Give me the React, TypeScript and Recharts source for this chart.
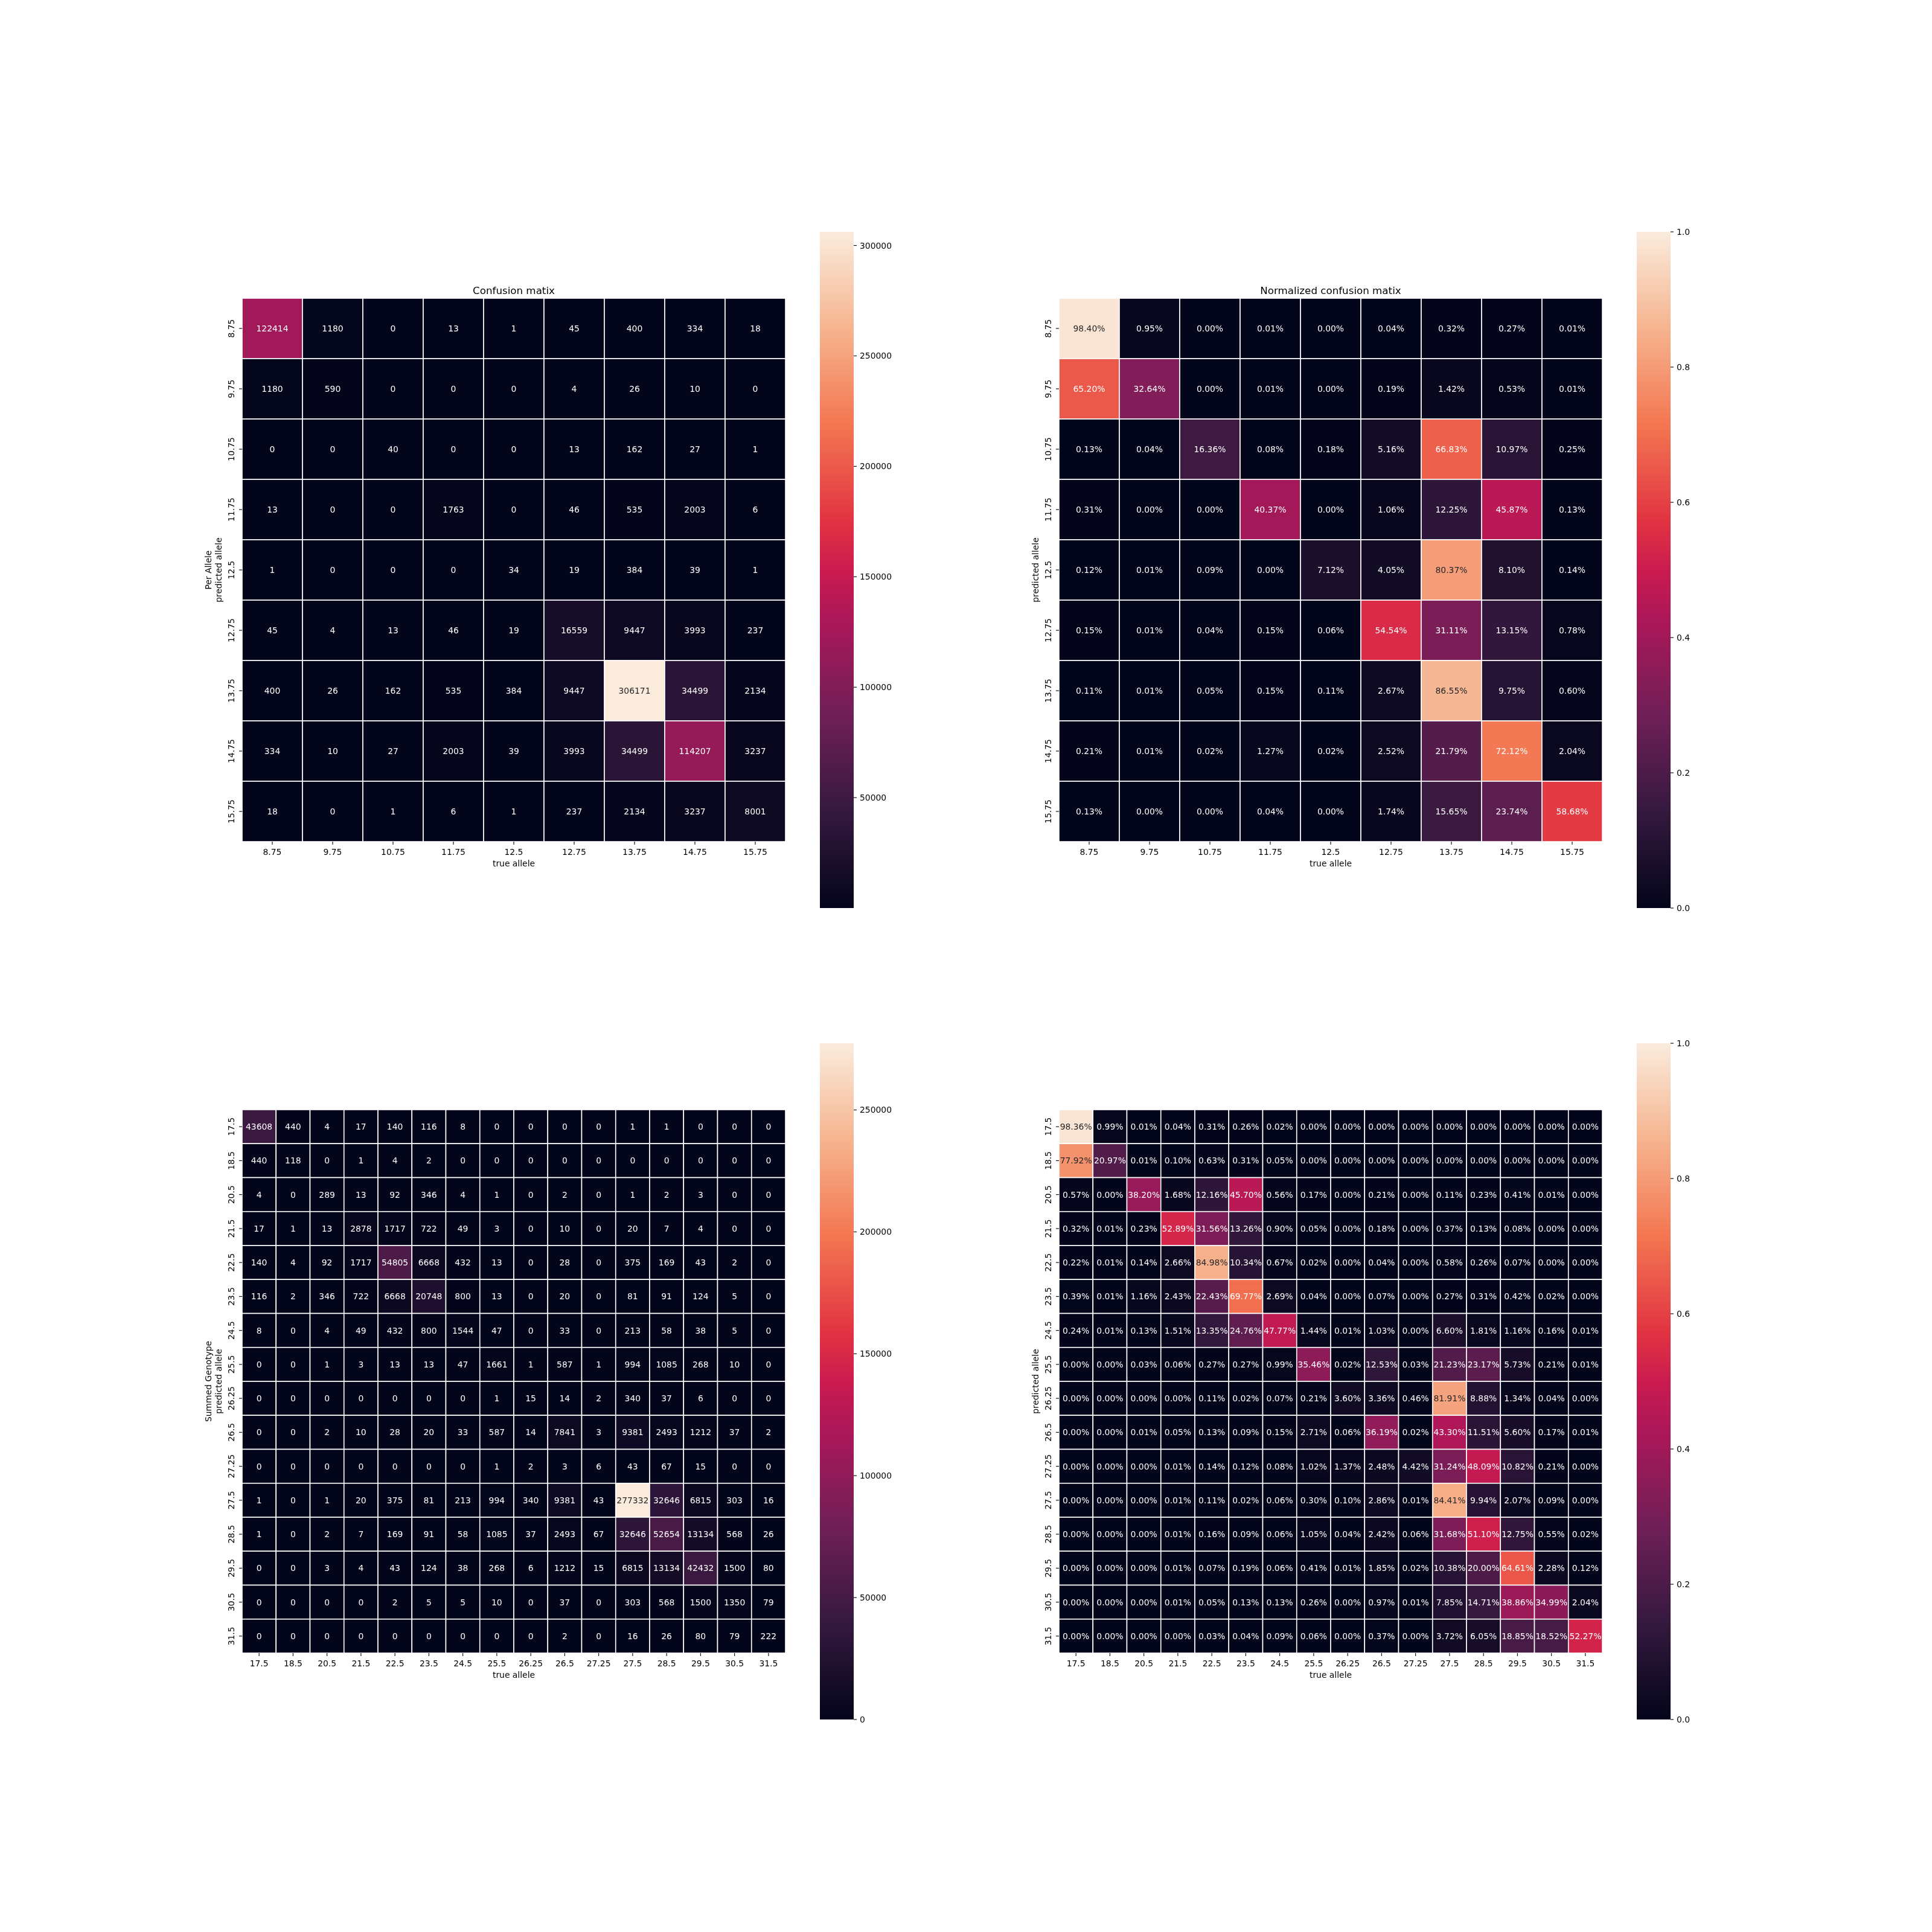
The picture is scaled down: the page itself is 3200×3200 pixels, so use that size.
import React from 'react';
import { ScatterChart, Scatter, XAxis, YAxis, BarChart, Bar } from 'recharts';

const FONT = 'DejaVu Sans';

// ---------- data ----------
const perAlleleLabels = ['8.75', '9.75', '10.75', '11.75', '12.5', '12.75', '13.75', '14.75', '15.75'];

const perAlleleCounts = [
  [122414, 1180, 0, 13, 1, 45, 400, 334, 18],
  [1180, 590, 0, 0, 0, 4, 26, 10, 0],
  [0, 0, 40, 0, 0, 13, 162, 27, 1],
  [13, 0, 0, 1763, 0, 46, 535, 2003, 6],
  [1, 0, 0, 0, 34, 19, 384, 39, 1],
  [45, 4, 13, 46, 19, 16559, 9447, 3993, 237],
  [400, 26, 162, 535, 384, 9447, 306171, 34499, 2134],
  [334, 10, 27, 2003, 39, 3993, 34499, 114207, 3237],
  [18, 0, 1, 6, 1, 237, 2134, 3237, 8001],
];

const perAlleleNormPct = [
  [98.4, 0.95, 0.0, 0.01, 0.0, 0.04, 0.32, 0.27, 0.01],
  [65.2, 32.64, 0.0, 0.01, 0.0, 0.19, 1.42, 0.53, 0.01],
  [0.13, 0.04, 16.36, 0.08, 0.18, 5.16, 66.83, 10.97, 0.25],
  [0.31, 0.0, 0.0, 40.37, 0.0, 1.06, 12.25, 45.87, 0.13],
  [0.12, 0.01, 0.09, 0.0, 7.12, 4.05, 80.37, 8.1, 0.14],
  [0.15, 0.01, 0.04, 0.15, 0.06, 54.54, 31.11, 13.15, 0.78],
  [0.11, 0.01, 0.05, 0.15, 0.11, 2.67, 86.55, 9.75, 0.6],
  [0.21, 0.01, 0.02, 1.27, 0.02, 2.52, 21.79, 72.12, 2.04],
  [0.13, 0.0, 0.0, 0.04, 0.0, 1.74, 15.65, 23.74, 58.68],
];

const genotypeLabels = ['17.5', '18.5', '20.5', '21.5', '22.5', '23.5', '24.5', '25.5', '26.25', '26.5', '27.25', '27.5', '28.5', '29.5', '30.5', '31.5'];

const genotypeCounts = [
  [43608, 440, 4, 17, 140, 116, 8, 0, 0, 0, 0, 1, 1, 0, 0, 0],
  [440, 118, 0, 1, 4, 2, 0, 0, 0, 0, 0, 0, 0, 0, 0, 0],
  [4, 0, 289, 13, 92, 346, 4, 1, 0, 2, 0, 1, 2, 3, 0, 0],
  [17, 1, 13, 2878, 1717, 722, 49, 3, 0, 10, 0, 20, 7, 4, 0, 0],
  [140, 4, 92, 1717, 54805, 6668, 432, 13, 0, 28, 0, 375, 169, 43, 2, 0],
  [116, 2, 346, 722, 6668, 20748, 800, 13, 0, 20, 0, 81, 91, 124, 5, 0],
  [8, 0, 4, 49, 432, 800, 1544, 47, 0, 33, 0, 213, 58, 38, 5, 0],
  [0, 0, 1, 3, 13, 13, 47, 1661, 1, 587, 1, 994, 1085, 268, 10, 0],
  [0, 0, 0, 0, 0, 0, 0, 1, 15, 14, 2, 340, 37, 6, 0, 0],
  [0, 0, 2, 10, 28, 20, 33, 587, 14, 7841, 3, 9381, 2493, 1212, 37, 2],
  [0, 0, 0, 0, 0, 0, 0, 1, 2, 3, 6, 43, 67, 15, 0, 0],
  [1, 0, 1, 20, 375, 81, 213, 994, 340, 9381, 43, 277332, 32646, 6815, 303, 16],
  [1, 0, 2, 7, 169, 91, 58, 1085, 37, 2493, 67, 32646, 52654, 13134, 568, 26],
  [0, 0, 3, 4, 43, 124, 38, 268, 6, 1212, 15, 6815, 13134, 42432, 1500, 80],
  [0, 0, 0, 0, 2, 5, 5, 10, 0, 37, 0, 303, 568, 1500, 1350, 79],
  [0, 0, 0, 0, 0, 0, 0, 0, 0, 2, 0, 16, 26, 80, 79, 222],
];

const genotypeNormPct = [
  [98.36, 0.99, 0.01, 0.04, 0.31, 0.26, 0.02, 0.0, 0.0, 0.0, 0.0, 0.0, 0.0, 0.0, 0.0, 0.0],
  [77.92, 20.97, 0.01, 0.1, 0.63, 0.31, 0.05, 0.0, 0.0, 0.0, 0.0, 0.0, 0.0, 0.0, 0.0, 0.0],
  [0.57, 0.0, 38.2, 1.68, 12.16, 45.7, 0.56, 0.17, 0.0, 0.21, 0.0, 0.11, 0.23, 0.41, 0.01, 0.0],
  [0.32, 0.01, 0.23, 52.89, 31.56, 13.26, 0.9, 0.05, 0.0, 0.18, 0.0, 0.37, 0.13, 0.08, 0.0, 0.0],
  [0.22, 0.01, 0.14, 2.66, 84.98, 10.34, 0.67, 0.02, 0.0, 0.04, 0.0, 0.58, 0.26, 0.07, 0.0, 0.0],
  [0.39, 0.01, 1.16, 2.43, 22.43, 69.77, 2.69, 0.04, 0.0, 0.07, 0.0, 0.27, 0.31, 0.42, 0.02, 0.0],
  [0.24, 0.01, 0.13, 1.51, 13.35, 24.76, 47.77, 1.44, 0.01, 1.03, 0.0, 6.6, 1.81, 1.16, 0.16, 0.01],
  [0.0, 0.0, 0.03, 0.06, 0.27, 0.27, 0.99, 35.46, 0.02, 12.53, 0.03, 21.23, 23.17, 5.73, 0.21, 0.01],
  [0.0, 0.0, 0.0, 0.0, 0.11, 0.02, 0.07, 0.21, 3.6, 3.36, 0.46, 81.91, 8.88, 1.34, 0.04, 0.0],
  [0.0, 0.0, 0.01, 0.05, 0.13, 0.09, 0.15, 2.71, 0.06, 36.19, 0.02, 43.3, 11.51, 5.6, 0.17, 0.01],
  [0.0, 0.0, 0.0, 0.01, 0.14, 0.12, 0.08, 1.02, 1.37, 2.48, 4.42, 31.24, 48.09, 10.82, 0.21, 0.0],
  [0.0, 0.0, 0.0, 0.01, 0.11, 0.02, 0.06, 0.3, 0.1, 2.86, 0.01, 84.41, 9.94, 2.07, 0.09, 0.0],
  [0.0, 0.0, 0.0, 0.01, 0.16, 0.09, 0.06, 1.05, 0.04, 2.42, 0.06, 31.68, 51.1, 12.75, 0.55, 0.02],
  [0.0, 0.0, 0.0, 0.01, 0.07, 0.19, 0.06, 0.41, 0.01, 1.85, 0.02, 10.38, 20.0, 64.61, 2.28, 0.12],
  [0.0, 0.0, 0.0, 0.01, 0.05, 0.13, 0.13, 0.26, 0.0, 0.97, 0.01, 7.85, 14.71, 38.86, 34.99, 2.04],
  [0.0, 0.0, 0.0, 0.0, 0.03, 0.04, 0.09, 0.06, 0.0, 0.37, 0.0, 3.72, 6.05, 18.85, 18.52, 52.27],
];

const perAlleleCbTicks = [50000, 100000, 150000, 200000, 250000, 300000];
const genotypeCbTicks = [0, 50000, 100000, 150000, 200000, 250000];
const normCbTicks = [0, 0.2, 0.4, 0.6, 0.8, 1.0];

// ---------- colormap (seaborn "rocket") ----------
const ROCKET: [number, string][] = [
  [0, '#03051a'],
  [1 / 7, '#35193e'],
  [2 / 7, '#701f57'],
  [3 / 7, '#ad1759'],
  [0.5, '#cb1b4f'],
  [4 / 7, '#e13342'],
  [5 / 7, '#f37651'],
  [6 / 7, '#f6b48f'],
  [1, '#faebdd'],
];

function hexToRgb(h: string): number[] {
  return [parseInt(h.slice(1, 3), 16), parseInt(h.slice(3, 5), 16), parseInt(h.slice(5, 7), 16)];
}

function rocket(t: number): number[] {
  const v = Math.max(0, Math.min(1, t));
  for (let i = 0; i < ROCKET.length - 1; i++) {
    const [o0, c0] = ROCKET[i];
    const [o1, c1] = ROCKET[i + 1];
    if (v <= o1) {
      const f = (v - o0) / (o1 - o0);
      const a = hexToRgb(c0);
      const b = hexToRgb(c1);
      return a.map((x, k) => Math.round(x + (b[k] - x) * f));
    }
  }
  return hexToRgb(ROCKET[ROCKET.length - 1][1]);
}

function rgbStr(c: number[]): string {
  return `rgb(${c[0]},${c[1]},${c[2]})`;
}

function textColorFor(c: number[]): string {
  const lin = c.map((x) => {
    const s = x / 255;
    return s <= 0.03928 ? s / 12.92 : Math.pow((s + 0.055) / 1.055, 2.4);
  });
  const L = 0.2126 * lin[0] + 0.7152 * lin[1] + 0.0722 * lin[2];
  return L > 0.408 ? '#262626' : '#ffffff';
}

// ---------- layout ----------
const PLOT = 900;
const ML = 140;
const MT = 60;
const MR = 10;
const MB = 80;
const FS = 13.9;

type HeatmapProps = {
  labels: string[];
  matrix: number[][];
  vmin: number;
  vmax: number;
  fmt: (v: number) => string;
  left: number;
  top: number;
  title?: string;
  yLabel: string[];
};

function Heatmap({ labels, matrix, vmin, vmax, fmt, left, top, title, yLabel }: HeatmapProps) {
  const n = labels.length;
  const cell = PLOT / n;
  const W = ML + PLOT + MR;
  const H = MT + PLOT + MB;
  const data: { x: number; y: number; v: number }[] = [];
  matrix.forEach((row, r) => row.forEach((v, c) => data.push({ x: c + 0.5, y: r + 0.5, v })));
  const ticks = labels.map((_, i) => i + 0.5);
  const colorOf = (v: number) => rocket((v - vmin) / (vmax - vmin));

  const cellShape = (p: any) => {
    const col = colorOf(p.payload.v);
    return (
      <rect
        x={p.cx - cell / 2}
        y={p.cy - cell / 2}
        width={cell}
        height={cell}
        fill={rgbStr(col)}
        stroke="#ffffff"
        strokeWidth={1.6}
      />
    );
  };
  const textShape = (p: any) => {
    const col = colorOf(p.payload.v);
    return (
      <text
        x={p.cx}
        y={p.cy}
        dy={FS * 0.36}
        textAnchor="middle"
        fontFamily={FONT}
        fontSize={FS}
        fill={textColorFor(col)}
      >
        {fmt(p.payload.v)}
      </text>
    );
  };

  const XTick = (tp: any) => {
    const idx = Math.round(tp.payload.value - 0.5);
    return (
      <text x={tp.x} y={tp.y + 13.5} textAnchor="middle" fontFamily={FONT} fontSize={FS} fill="#000">
        {labels[idx]}
      </text>
    );
  };
  const YTick = (tp: any) => {
    const idx = Math.round(tp.payload.value - 0.5);
    const bx = tp.x - 4.7;
    return (
      <text
        x={bx}
        y={tp.y}
        transform={`rotate(-90, ${bx}, ${tp.y})`}
        textAnchor="middle"
        fontFamily={FONT}
        fontSize={FS}
        fill="#000"
      >
        {labels[idx]}
      </text>
    );
  };

  const cy = MT + PLOT / 2;
  const yl = yLabel.map((s, i) => {
    const bx = ML - 34 - (yLabel.length - 1 - i) * 16.7;
    return (
      <text
        key={s}
        x={bx}
        y={cy}
        transform={`rotate(-90, ${bx}, ${cy})`}
        textAnchor="middle"
        fontFamily={FONT}
        fontSize={FS}
        fill="#000"
      >
        {s}
      </text>
    );
  });

  return (
    <div style={{ position: 'absolute', left: left - ML, top: top - MT, willChange: 'transform' }}>
      <ScatterChart width={W} height={H} margin={{ top: MT, right: MR, bottom: 0, left: 0 }}>
        <XAxis
          type="number"
          dataKey="x"
          domain={[0, n]}
          ticks={ticks}
          interval={0}
          height={MB}
          axisLine={false}
          tickSize={5}
          tickMargin={3}
          tickLine={{ stroke: '#000', strokeWidth: 1.1 }}
          tick={XTick}
          allowDataOverflow
        />
        <YAxis
          type="number"
          dataKey="y"
          domain={[0, n]}
          reversed
          ticks={ticks}
          interval={0}
          width={ML}
          axisLine={false}
          tickSize={5}
          tickMargin={3}
          tickLine={{ stroke: '#000', strokeWidth: 1.1 }}
          tick={YTick}
          allowDataOverflow
        />
        <Scatter data={data} shape={cellShape} isAnimationActive={false} />
        <Scatter data={data} shape={textShape} isAnimationActive={false} />
        {title ? (
          <text x={ML + PLOT / 2} y={MT - 7} textAnchor="middle" fontFamily={FONT} fontSize={16.7} fill="#000">
            {title}
          </text>
        ) : null}
        <text x={ML + PLOT / 2} y={MT + PLOT + 41} textAnchor="middle" fontFamily={FONT} fontSize={FS} fill="#000">
          true allele
        </text>
        {yl}
      </ScatterChart>
    </div>
  );
}

type ColorbarProps = {
  id: string;
  left: number;
  top: number;
  height: number;
  vmin: number;
  vmax: number;
  ticks: number[];
  fmt: (v: number) => string;
};

function Colorbar({ id, left, top, height, vmin, vmax, ticks, fmt }: ColorbarProps) {
  const CW = 56;
  const AX = 110;
  const data = [{ name: 'cb', range: [vmin, vmax] }];
  const Tick = (tp: any) => (
    <text x={tp.x} y={tp.y} dy={FS * 0.36} textAnchor="start" fontFamily={FONT} fontSize={FS} fill="#000">
      {fmt(tp.payload.value)}
    </text>
  );
  return (
    <div style={{ position: 'absolute', left, top: top - 10, willChange: 'transform' }}>
      <BarChart
        width={CW + AX}
        height={height + 20}
        data={data}
        margin={{ top: 10, right: 0, bottom: 10, left: 0 }}
        barCategoryGap={0}
      >
        <defs>
          <linearGradient id={id} x1="0" y1="1" x2="0" y2="0">
            {ROCKET.map(([o, c]) => (
              <stop key={o} offset={o} stopColor={c} />
            ))}
          </linearGradient>
        </defs>
        <XAxis dataKey="name" type="category" hide />
        <YAxis
          orientation="right"
          type="number"
          domain={[vmin, vmax]}
          ticks={ticks}
          interval={0}
          width={AX}
          axisLine={false}
          tickSize={5}
          tickMargin={5}
          tickLine={{ stroke: '#000', strokeWidth: 1.1 }}
          tick={Tick}
          allowDataOverflow
        />
        <Bar dataKey="range" fill={`url(#${id})`} isAnimationActive={false} />
      </BarChart>
    </div>
  );
}

const fmtInt = (v: number) => String(v);
const fmtPct = (v: number) => `${v.toFixed(2)}%`;
const fmtOne = (v: number) => v.toFixed(1);

export default function App() {
  return (
    <div
      style={{
        position: 'absolute',
        left: 0,
        top: 0,
        width: 3200,
        height: 3200,
        background: '#ffffff',
        fontFamily: FONT,
        overflow: 'hidden',
      }}
    >
      <Heatmap
        labels={perAlleleLabels}
        matrix={perAlleleCounts}
        vmin={0}
        vmax={306171}
        fmt={fmtInt}
        left={401}
        top={494}
        title="Confusion matix"
        yLabel={['Per Allele', 'predicted allele']}
      />
      <Colorbar id="cb-tl" left={1358} top={384} height={1120} vmin={0} vmax={306171} ticks={perAlleleCbTicks} fmt={fmtInt} />

      <Heatmap
        labels={perAlleleLabels}
        matrix={perAlleleNormPct}
        vmin={0}
        vmax={100}
        fmt={fmtPct}
        left={1754}
        top={494}
        title="Normalized confusion matix"
        yLabel={['predicted allele']}
      />
      <Colorbar id="cb-tr" left={2711} top={384} height={1120} vmin={0} vmax={1} ticks={normCbTicks} fmt={fmtOne} />

      <Heatmap
        labels={genotypeLabels}
        matrix={genotypeCounts}
        vmin={0}
        vmax={277332}
        fmt={fmtInt}
        left={401}
        top={1838}
        yLabel={['Summed Genotype', 'predicted allele']}
      />
      <Colorbar id="cb-bl" left={1358} top={1728} height={1120} vmin={0} vmax={277332} ticks={genotypeCbTicks} fmt={fmtInt} />

      <Heatmap
        labels={genotypeLabels}
        matrix={genotypeNormPct}
        vmin={0}
        vmax={100}
        fmt={fmtPct}
        left={1754}
        top={1838}
        yLabel={['predicted allele']}
      />
      <Colorbar id="cb-br" left={2711} top={1728} height={1120} vmin={0} vmax={1} ticks={normCbTicks} fmt={fmtOne} />
    </div>
  );
}
